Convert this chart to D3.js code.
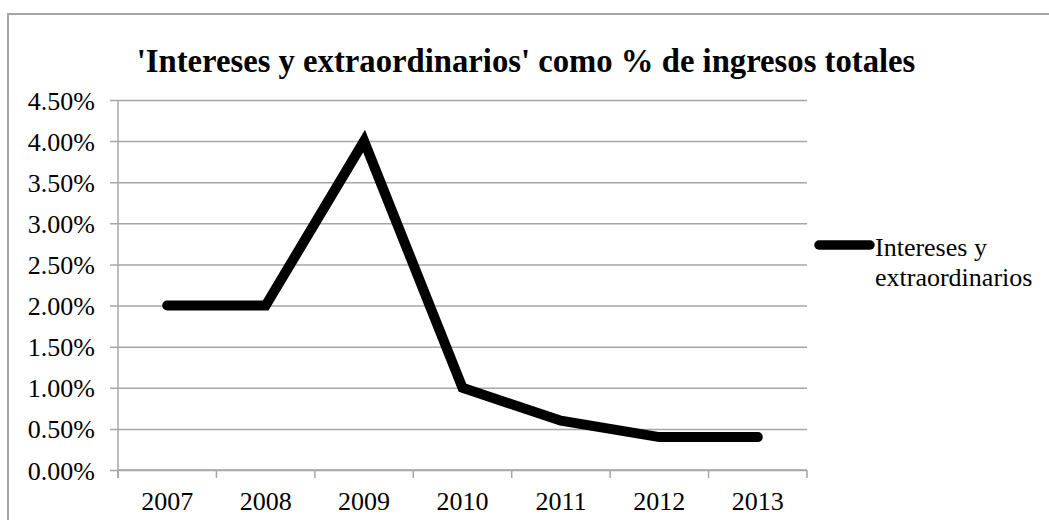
<!DOCTYPE html>
<html><head><meta charset="utf-8">
<script src="https://cdn.jsdelivr.net/npm/d3@7"></script>
<style>body{margin:0;background:#fff}svg{display:block}</style>
</head><body>
<svg id="c" width="1049" height="520"></svg>
<script>
const categories = ["2007","2008","2009","2010","2011","2012","2013"];
const values = [0.02, 0.02, 0.04, 0.01, 0.006, 0.004, 0.004];
const yTicks = [0,0.005,0.01,0.015,0.02,0.025,0.03,0.035,0.04,0.045];
const seriesName = "Intereses y extraordinarios";
const title = "'Intereses y extraordinarios' como % de ingresos totales";

const svg = d3.select("#c");
const font = "'Liberation Serif','Times New Roman',serif";
const grey = "#a6a6a6";

svg.append("rect").attr("x",8).attr("y",14).attr("width",1060).attr("height",530)
  .attr("fill","none").attr("stroke",grey).attr("stroke-width",2);

const L=118, R=807, T=100, B=470;
const x = d3.scaleBand().domain(categories).range([L,R]);
const y = d3.scaleLinear().domain([0,0.045]).range([B,T]);

svg.append("text").attr("x",526).attr("y",72).attr("text-anchor","middle")
  .attr("font-family",font).attr("font-weight","bold").attr("font-size",32.7).text(title);

// gridlines
const gy = svg.append("g").attr("transform",`translate(${L},0)`)
  .call(d3.axisLeft(y).tickValues(yTicks).tickSize(-(R-L)).tickSizeOuter(0).tickFormat(d3.format(".2%")).tickPadding(23));
gy.select(".domain").remove();
gy.selectAll(".tick line").attr("stroke",grey).attr("stroke-width",1.5).attr("x1",-8);
gy.selectAll(".tick text").attr("font-family",font).attr("font-size",26).attr("fill","#000").attr("dy","0.35em");

// y axis line
svg.append("line").attr("x1",L).attr("x2",L).attr("y1",T).attr("y2",B+8).attr("stroke",grey).attr("stroke-width",1.5);

// x axis
const gx = svg.append("g").attr("transform",`translate(0,${B})`)
  .call(d3.axisBottom(x).tickSize(0).tickPadding(22));
gx.select(".domain").attr("stroke",grey).attr("stroke-width",1.5).attr("d",`M${L},0H${R}`);
gx.selectAll(".tick text").attr("font-family",font).attr("font-size",26).attr("fill","#000");
const bounds = categories.map(c=>x(c)).concat([R]);
svg.selectAll(".xt").data(bounds).enter().append("line")
  .attr("x1",d=>d).attr("x2",d=>d).attr("y1",B).attr("y2",B+8).attr("stroke",grey).attr("stroke-width",1.5);

// line
const line = d3.line().x((d,i)=>x(categories[i])+x.bandwidth()/2).y(d=>y(d));
svg.append("path").datum(values).attr("d",line).attr("fill","none").attr("stroke","#000")
  .attr("stroke-width",10).attr("stroke-linecap","round").attr("stroke-linejoin","miter");

// legend
svg.append("line").attr("x1",819).attr("x2",870).attr("y1",245).attr("y2",245)
  .attr("stroke","#000").attr("stroke-width",9.5).attr("stroke-linecap","round");
const lt = svg.append("text").attr("font-family",font).attr("font-size",26).attr("fill","#000");
lt.append("tspan").attr("x",875).attr("y",256).text("Intereses y");
lt.append("tspan").attr("x",875).attr("y",286).text("extraordinarios");
</script>
</body></html>
